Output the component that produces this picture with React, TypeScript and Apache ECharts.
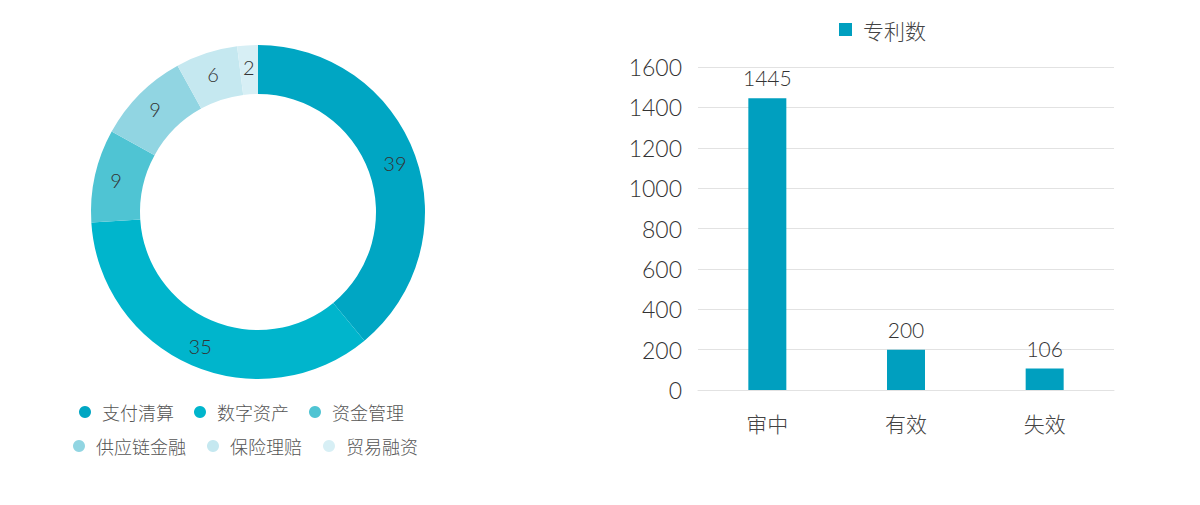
import { useEffect, useRef } from "react";
import * as echarts from "echarts";

// 业务分布（环形图）
const pieNames = ["支付清算", "数字资产", "资金管理", "供应链金融", "保险理赔", "贸易融资"];
const pieValues = [39, 35, 9, 9, 6, 2];
const pieColors = ["#00a6c3", "#00b5cc", "#4fc4d3", "#91d5e2", "#c5e8f0", "#d7eff5"];

// 专利状态（柱状图）
const barCategories = ["审中", "有效", "失效"];
const barValues = [1445, 200, 106];
const barColor = "#009fbf";

const numFont = "Lato, 'Noto Sans CJK SC', sans-serif";
const cjkFont = "'Noto Sans CJK SC', Lato, sans-serif";

export default function App() {
  const chartRef = useRef<HTMLDivElement>(null);

  useEffect(() => {
    document.body.style.margin = "0";
    if (!chartRef.current) return;
    const chart = echarts.init(chartRef.current, undefined, { renderer: "svg" });

    const legendText = {
      fontFamily: cjkFont,
      fontWeight: 300,
      fontSize: 18,
      color: "#555",
      padding: [0, 0, 0, 6],
    };

    const option: echarts.EChartsOption = {
      animation: false,
      backgroundColor: "#fff",
      legend: [
        {
          data: ["专利数"],
          left: 834,
          top: 14,
          itemWidth: 13,
          itemHeight: 13,
          icon: "rect",
          textStyle: { ...legendText, fontSize: 21, color: "#444" },
        },
        {
          data: pieNames.slice(0, 3),
          left: 74,
          top: 398,
          icon: "circle",
          itemWidth: 12,
          itemHeight: 12,
          itemGap: 20,
          textStyle: legendText,
        },
        {
          data: pieNames.slice(3),
          left: 68,
          top: 432,
          icon: "circle",
          itemWidth: 12,
          itemHeight: 12,
          itemGap: 21,
          textStyle: legendText,
        },
      ],
      grid: {
        left: 698,
        right: 86,
        top: 67,
        bottom: 115,
      },
      xAxis: {
        type: "category",
        data: barCategories,
        axisLine: { lineStyle: { color: "#e2e2e2" } },
        axisTick: { show: false },
        axisLabel: {
          fontFamily: cjkFont,
          fontWeight: 300,
          fontSize: 21,
          color: "#444",
          margin: 22,
        },
      },
      yAxis: {
        type: "value",
        min: 0,
        max: 1600,
        interval: 200,
        axisLine: { show: false },
        axisTick: { show: false },
        splitLine: { lineStyle: { color: "#e2e2e2" } },
        axisLabel: {
          formatter: (v: number) => String(v),
          fontFamily: numFont,
          fontWeight: 300,
          fontSize: 23,
          color: "#333",
          margin: 16,
        },
      },
      series: [
        {
          type: "pie",
          center: [258, 212],
          radius: [118, 167],
          startAngle: 90,
          clockwise: true,
          avoidLabelOverlap: false,
          data: pieNames.map((name, i) => ({
            name,
            value: pieValues[i],
            itemStyle: { color: pieColors[i] },
          })),
          label: {
            show: true,
            position: "inside",
            formatter: "{c}",
            fontFamily: numFont,
            fontWeight: 300,
            fontSize: 20,
            color: "#333",
          },
          labelLine: { show: false },
          emphasis: { disabled: true },
        },
        {
          name: "专利数",
          type: "bar",
          data: barValues,
          barWidth: 38,
          itemStyle: { color: barColor },
          label: {
            show: true,
            position: "top",
            distance: 10,
            fontFamily: numFont,
            fontWeight: 300,
            fontSize: 21,
            color: "#333",
          },
        },
      ],
    };

    chart.setOption(option);
    return () => chart.dispose();
  }, []);

  return <div ref={chartRef} style={{ width: 1200, height: 505 }} />;
}
